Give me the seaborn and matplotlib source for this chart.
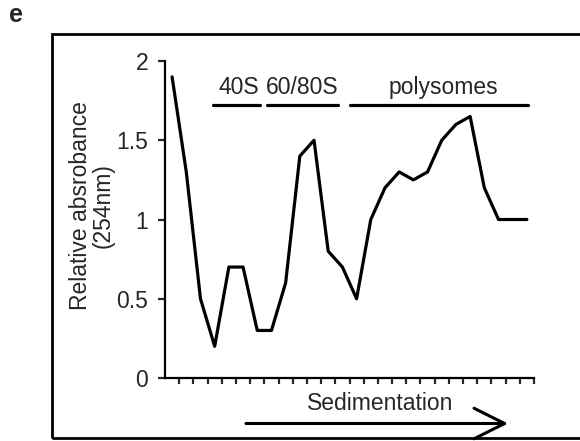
import matplotlib
matplotlib.use("Agg")
import matplotlib.pyplot as plt
import numpy as np
import pandas as pd
import seaborn as sns
from matplotlib.patches import Rectangle

fractions = list(range(26))
absorbance = [1.9, 1.3, 0.5, 0.2, 0.7, 0.7, 0.3, 0.3, 0.6, 1.4, 1.5, 0.8, 0.7,
              0.5, 1.0, 1.2, 1.3, 1.25, 1.3, 1.5, 1.6, 1.65, 1.2, 1.0, 1.0, 1.0]
y_ticks = [0, 0.5, 1, 1.5, 2]
y_tick_labels = ["0", "0.5", "1", "1.5", "2"]
peak_labels = ["40S", "60/80S", "polysomes"]
peak_starts = [2.85, 6.7, 12.5]
peak_ends = [6.2, 11.7, 25.1]
peak_text_x = [4.7, 9.2, 19.1]

sns.set_style("white")
plt.rcParams["font.family"] = ["Liberation Sans", "DejaVu Sans"]
FS = 16.5

df = pd.DataFrame({"fraction": fractions, "absorbance": absorbance})

fig = plt.figure(figsize=(5.8, 4.41), dpi=100)
ax = fig.add_axes([165 / 580, 63 / 441, 369 / 580, 317 / 441])

sns.lineplot(data=df, x="fraction", y="absorbance", color="black", linewidth=2.3, ax=ax)

ax.set_xlim(-0.5, len(fractions) - 0.5)
ax.set_ylim(0, 2)
ax.set_yticks(y_ticks)
ax.set_yticklabels(y_tick_labels, fontsize=FS)
ax.set_xticks(np.arange(1, len(fractions) + 1) - 0.5)
ax.set_xticklabels([])
ax.tick_params(axis="y", direction="out", length=5, width=1.6, pad=7, left=True)
ax.tick_params(axis="x", direction="out", length=4, width=1.6, bottom=True)
ax.set_xlabel("")
ax.set_ylabel("")

for side in ["top", "right"]:
    ax.spines[side].set_visible(False)
for side in ["left", "bottom"]:
    ax.spines[side].set_linewidth(1.6)
    ax.spines[side].set_color("black")

# fraction ranges above the profile
for label, x0, x1, xt in zip(peak_labels, peak_starts, peak_ends, peak_text_x):
    ax.plot([x0, x1], [1.72, 1.72], color="black", linewidth=2.3, clip_on=False)
    ax.text(xt, 1.76, label, fontsize=FS, ha="center", va="bottom")

fig.text(92 / 580, 0.535, "Relative absrobance\n(254nm)", rotation=90,
         ha="center", va="center", multialignment="center", fontsize=FS,
         linespacing=1.0)

fig.text(380 / 580, (441 - 403) / 441, "Sedimentation", fontsize=FS,
         ha="center", va="center")
ax.annotate("", xy=(508 / 580, 17.5 / 441), xytext=(246 / 580, 17.5 / 441),
            xycoords="figure fraction", textcoords="figure fraction",
            arrowprops=dict(arrowstyle="->, head_length=1.1, head_width=0.55",
                            color="black", linewidth=2.2, mutation_scale=20,
                            shrinkA=0, shrinkB=0))

fig.patches.append(Rectangle((52 / 580, 3 / 441), 540 / 580, 404 / 441,
                             transform=fig.transFigure, fill=False,
                             edgecolor="black", linewidth=2.0))
fig.text(16.5 / 580, (441 - 15) / 441, "e", fontsize=18, fontweight="bold",
         ha="center", va="center")

fig.savefig("out.png", dpi=100, facecolor="white")
